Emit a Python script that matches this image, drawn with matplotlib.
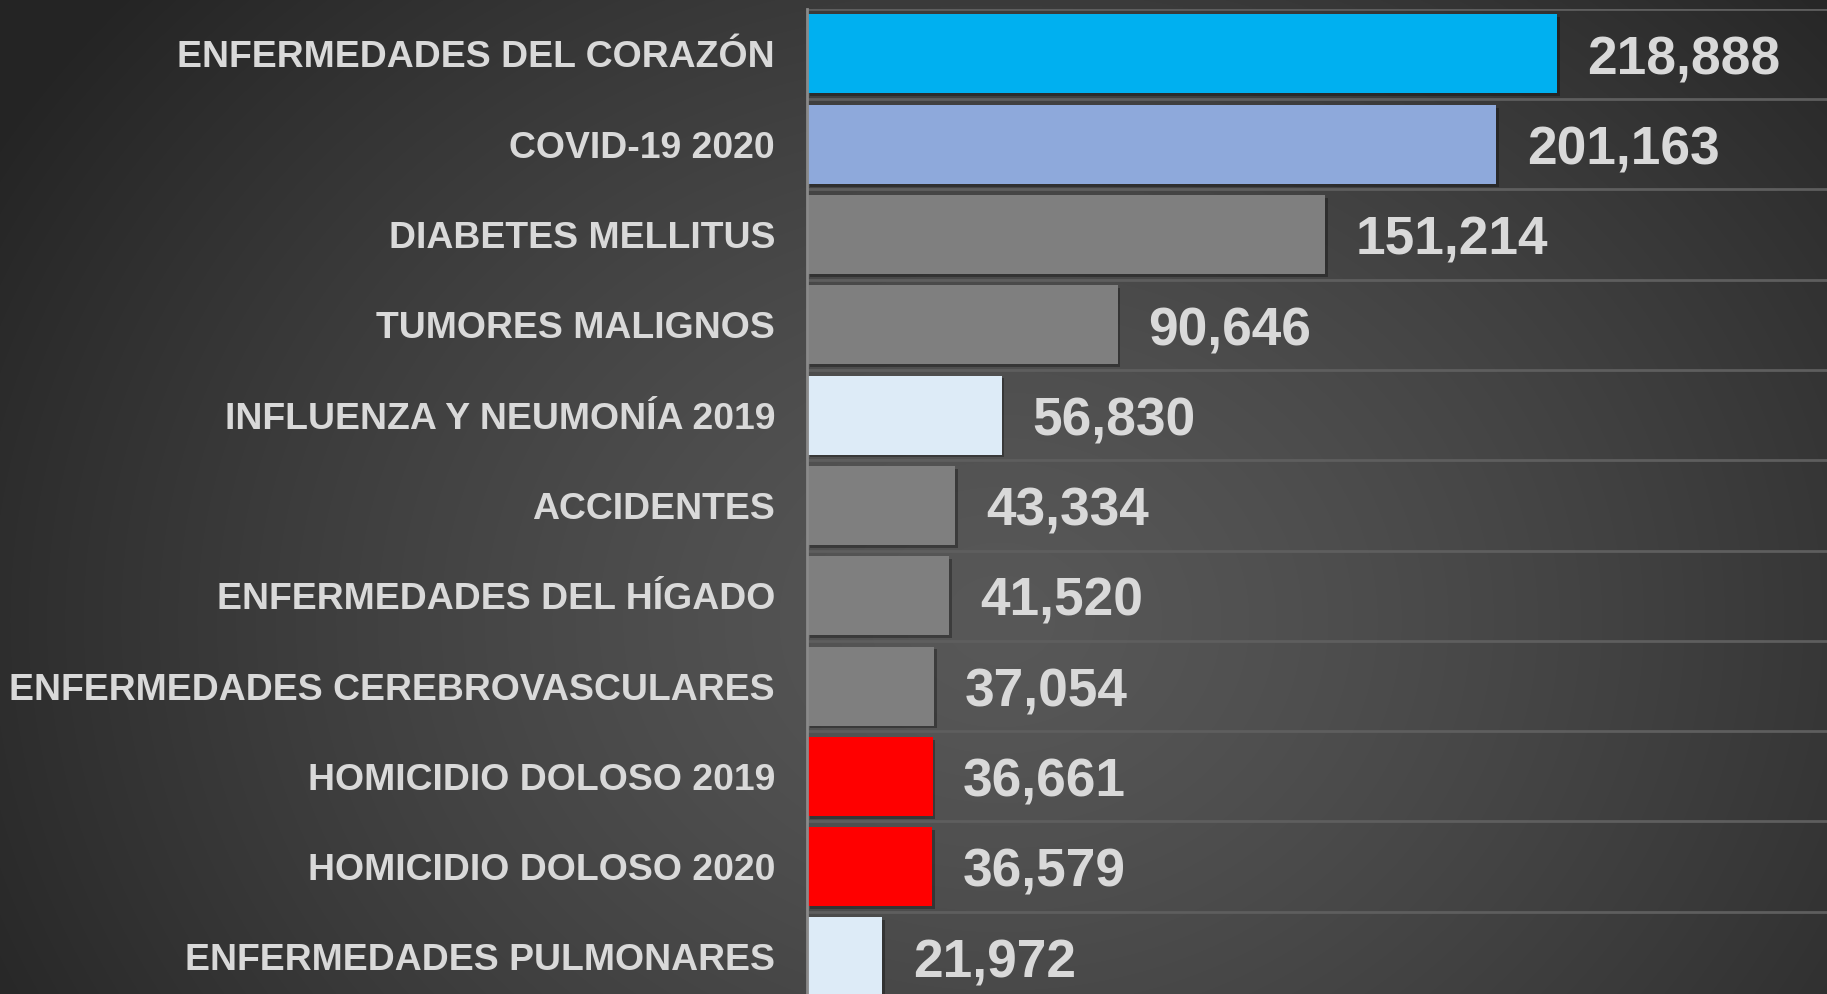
import numpy as np
import matplotlib.pyplot as plt
import matplotlib.patheffects as pe

categories = ["ENFERMEDADES DEL CORAZÓN", "COVID-19 2020", "DIABETES MELLITUS",
              "TUMORES MALIGNOS", "INFLUENZA Y NEUMONÍA 2019", "ACCIDENTES",
              "ENFERMEDADES DEL HÍGADO", "ENFERMEDADES CEREBROVASCULARES",
              "HOMICIDIO DOLOSO 2019", "HOMICIDIO DOLOSO 2020",
              "ENFERMEDADES PULMONARES"]
values = [218888, 201163, 151214, 90646, 56830, 43334, 41520, 37054, 36661, 36579, 21972]
colors = ["#00B0F0", "#8EA9DB", "#7F7F7F", "#7F7F7F", "#DDEBF7", "#7F7F7F",
          "#7F7F7F", "#7F7F7F", "#FF0000", "#FF0000", "#DDEBF7"]

plt.rcParams['font.family'] = ['Liberation Sans', 'DejaVu Sans']
txt = '#D9D9D9'

fig = plt.figure(figsize=(18.27, 9.94), dpi=100)

# background radial gradient
bg = fig.add_axes([0, 0, 1, 1], zorder=-10)
W, H = 1827, 994
xx, yy = np.meshgrid(np.arange(W), np.arange(H))
r = np.sqrt(((xx - 1000) / 1150.0) ** 2 + ((yy - 620) / 950.0) ** 2)
r = np.clip(r, 0, 1)
shade = 0.345 - 0.2 * r ** 1.3
img = np.dstack([shade, shade, shade])
bg.imshow(img, aspect='auto', extent=(0, 1, 0, 1), origin='upper')
bg.set_axis_off()

left = 807 / W
top_px = 8.8
ax = fig.add_axes([left, 0, 1 - left, 1 - top_px / H])
ax.patch.set_alpha(0)

y = np.arange(len(categories))
bars = ax.barh(y, values, height=0.875, color=colors, zorder=3)
for b in bars:
    b.set_path_effects([pe.SimplePatchShadow(offset=(2, -2), shadow_rgbFace='black', alpha=0.3),
                        pe.Normal()])

rows_visible = (H - top_px) / 90.3
ax.set_ylim(-0.5 + rows_visible, -0.5)
ax.set_xlim(0, 297700)

# gridlines between rows
for k in range(len(categories) + 1):
    ax.axhline(k - 0.5, color='#5e5e5e', lw=2, zorder=1)

ax.set_yticks(y)
ax.set_yticklabels(categories, fontsize=26.9, fontweight='bold', color=txt)
ax.tick_params(axis='y', length=0, pad=23)
ax.set_xticks([])

for s in ['top', 'right', 'bottom']:
    ax.spines[s].set_visible(False)
ax.spines['left'].set_color('#8a8a8a')
ax.spines['left'].set_linewidth(2)
ax.spines['left'].set_zorder(4)

labels = ax.bar_label(bars, labels=[f"{v:,}" for v in values], padding=22,
                      fontsize=38.3, fontweight='bold', color=txt)
for t in labels:
    t.xyann = (22, -4.5)

fig.savefig('out.png', dpi=100)
